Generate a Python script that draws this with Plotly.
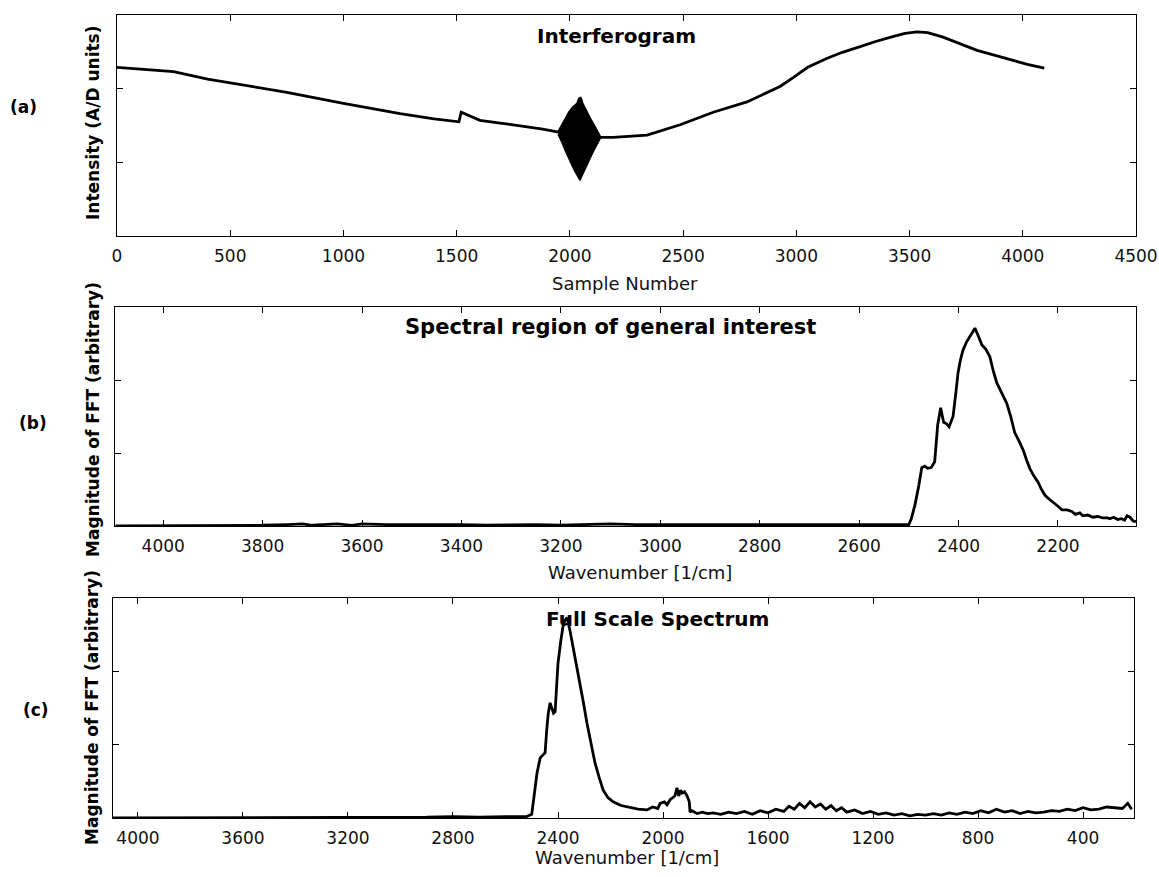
import plotly.graph_objects as go

# ---------------- data ----------------
# (a) Interferogram: baseline trace (sample number, intensity)
samples_a = [0, 100, 250, 400, 500, 750, 1000, 1160, 1250, 1400, 1500, 1510, 1520,
             1603, 1700, 1800, 1880, 1950, 2045, 2133, 2191, 2341, 2487, 2633, 2782,
             2840, 2928, 2986, 3050, 3134, 3200, 3282, 3350, 3430, 3480, 3533, 3580,
             3648, 3700, 3798, 3870, 3945, 4020, 4095]
intensity_a = [2.29, 2.27, 2.23, 2.13, 2.08, 1.95, 1.80, 1.71, 1.66, 1.59, 1.55, 1.55, 1.68,
               1.57, 1.53, 1.49, 1.45, 1.41, 1.37, 1.34, 1.34, 1.37, 1.51, 1.68, 1.82,
               1.90, 2.03, 2.15, 2.29, 2.41, 2.49, 2.57, 2.64, 2.71, 2.75, 2.77, 2.76,
               2.70, 2.64, 2.52, 2.46, 2.39, 2.33, 2.28]
# centre burst envelope
burst_samples = [1948, 1965, 1978, 1995, 2009, 2020, 2031, 2038, 2042, 2045, 2048, 2052,
                 2057, 2066, 2076, 2090, 2107, 2120, 2133]
burst_upper = [1.42, 1.52, 1.60, 1.68, 1.74, 1.77, 1.80, 1.86, 1.88, 1.88, 1.88, 1.86,
               1.80, 1.74, 1.68, 1.60, 1.51, 1.43, 1.36]
burst_lower = [1.38, 1.27, 1.17, 1.05, 0.96, 0.89, 0.83, 0.79, 0.77, 0.76, 0.77, 0.79,
               0.83, 0.89, 0.96, 1.06, 1.17, 1.25, 1.32]

# (b) Spectral region of general interest
wn_b = [4096, 4000, 3900, 3800, 3750, 3720, 3700, 3680, 3650, 3620, 3600, 3550, 3500,
        3450, 3400, 3350, 3300, 3250, 3200, 3150, 3100, 3050, 3000, 2950, 2900, 2850,
        2800, 2750, 2700, 2650, 2600, 2560, 2530, 2510, 2500, 2495, 2488, 2480, 2474,
        2468, 2462, 2455, 2448, 2442, 2436, 2430, 2424, 2419, 2411, 2405, 2401, 2396,
        2391, 2384, 2377, 2372, 2367, 2360, 2353, 2345, 2337, 2330, 2323, 2313, 2303,
        2295, 2287, 2278, 2270, 2263, 2256, 2248, 2240, 2233, 2226, 2218, 2210, 2200,
        2192, 2182, 2172, 2165, 2156, 2150, 2140, 2130, 2120, 2110, 2100, 2096, 2088,
        2080, 2072, 2066, 2061, 2055, 2049, 2043]
mag_b = [0.00, 0.00, 0.01, 0.01, 0.02, 0.03, 0.01, 0.02, 0.03, 0.01, 0.03, 0.02, 0.02,
         0.03, 0.02, 0.01, 0.02, 0.02, 0.01, 0.02, 0.03, 0.02, 0.02, 0.03, 0.03, 0.02,
         0.02, 0.03, 0.02, 0.02, 0.03, 0.02, 0.03, 0.02, 0.02, 0.10, 0.28, 0.55, 0.80,
         0.82, 0.79, 0.80, 0.88, 1.38, 1.62, 1.42, 1.40, 1.36, 1.50, 1.85, 2.10, 2.28,
         2.41, 2.52, 2.60, 2.66, 2.71, 2.60, 2.48, 2.42, 2.32, 2.12, 1.96, 1.82, 1.68,
         1.50, 1.28, 1.16, 1.04, 0.90, 0.78, 0.68, 0.60, 0.50, 0.42, 0.37, 0.33, 0.27,
         0.22, 0.22, 0.20, 0.16, 0.18, 0.14, 0.15, 0.12, 0.13, 0.11, 0.11, 0.10, 0.12,
         0.09, 0.10, 0.08, 0.14, 0.12, 0.07, 0.06]

# (c) Full scale spectrum
wn_c = [4095, 3900, 3700, 3500, 3300, 3100, 2900, 2800, 2700, 2600, 2520, 2500, 2490,
        2480, 2468, 2458, 2449, 2443, 2437, 2430, 2423, 2417, 2411, 2405, 2400, 2390,
        2381, 2373, 2365, 2354, 2342, 2330, 2316, 2303, 2290, 2275, 2259, 2243, 2228,
        2210, 2190, 2160, 2126, 2095, 2061, 2040, 2020, 2011, 1995, 1985, 1973, 1962,
        1955, 1947, 1940, 1933, 1927, 1918, 1908, 1900, 1897, 1890, 1870, 1850, 1830,
        1809, 1780, 1750, 1720, 1690, 1660, 1630, 1600, 1570, 1540, 1520, 1500, 1480,
        1460, 1440, 1420, 1400, 1380, 1360, 1340, 1320, 1300, 1270, 1240, 1210, 1180,
        1150, 1120, 1090, 1060, 1030, 1000, 970, 940, 910, 880, 850, 820, 790, 760,
        730, 700, 670, 640, 610, 580, 550, 520, 490, 460, 430, 400, 370, 340, 310, 280,
        250, 230, 215, 206]
mag_c = [0.00, 0.00, 0.01, 0.00, 0.01, 0.00, 0.01, 0.02, 0.01, 0.02, 0.02, 0.05, 0.30,
         0.61, 0.82, 0.85, 0.89, 1.20, 1.43, 1.57, 1.50, 1.43, 1.45, 1.80, 2.11, 2.40,
         2.61, 2.70, 2.73, 2.55, 2.33, 2.10, 1.84, 1.57, 1.30, 1.02, 0.75, 0.55, 0.38,
         0.28, 0.22, 0.17, 0.14, 0.12, 0.11, 0.15, 0.13, 0.20, 0.22, 0.18, 0.25, 0.28,
         0.30, 0.41, 0.30, 0.38, 0.34, 0.36, 0.30, 0.22, 0.08, 0.10, 0.06, 0.08, 0.06,
         0.07, 0.05, 0.08, 0.06, 0.09, 0.05, 0.10, 0.07, 0.12, 0.09, 0.16, 0.12, 0.20,
         0.14, 0.22, 0.15, 0.19, 0.12, 0.17, 0.10, 0.14, 0.08, 0.11, 0.06, 0.09, 0.05,
         0.07, 0.04, 0.06, 0.03, 0.05, 0.04, 0.06, 0.04, 0.07, 0.05, 0.08, 0.06, 0.10,
         0.07, 0.12, 0.08, 0.10, 0.06, 0.09, 0.07, 0.08, 0.10, 0.09, 0.12, 0.10, 0.14,
         0.11, 0.12, 0.15,
         0.14, 0.13, 0.20, 0.12]

ticks_a = [0, 500, 1000, 1500, 2000, 2500, 3000, 3500, 4000, 4500]
ticks_b = [4000, 3800, 3600, 3400, 3200, 3000, 2800, 2600, 2400, 2200]
ticks_c = [4000, 3600, 3200, 2800, 2400, 2000, 1600, 1200, 800, 400]

# ---------------- figure ----------------
W, H = 1159, 877
LINE = dict(color="black", width=2.8)
TICKFONT = dict(family="DejaVu Sans", size=17, color="#111111")
TITLEFONT = dict(family="DejaVu Sans", size=20, color="black", weight="bold")
TITLEFONT_B = dict(family="DejaVu Sans", size=21, color="black", weight="bold")
AXTFONT = dict(family="DejaVu Sans", size=18, color="#111111")
YTFONT = dict(family="DejaVu Sans", size=17, color="black", weight="bold")

fig = go.Figure()
fig.add_trace(go.Scatter(x=samples_a, y=intensity_a, mode="lines", line=LINE,
                         xaxis="x", yaxis="y", showlegend=False))
fig.add_trace(go.Scatter(x=burst_samples + burst_samples[::-1],
                         y=burst_upper + burst_lower[::-1], mode="lines",
                         fill="toself", fillcolor="black",
                         line=dict(color="black", width=1.5),
                         xaxis="x", yaxis="y", showlegend=False))
fig.add_trace(go.Scatter(x=wn_b, y=mag_b, mode="lines", line=LINE,
                         xaxis="x2", yaxis="y2", showlegend=False))
fig.add_trace(go.Scatter(x=wn_c, y=mag_c, mode="lines", line=LINE,
                         xaxis="x3", yaxis="y3", showlegend=False))

def px(v):
    return v / W

def py(v):
    return 1 - v / H

common_x = dict(showline=True, linecolor="black", linewidth=1.2, mirror="ticks",
                ticks="inside", ticklen=6, tickcolor="black", tickwidth=1,
                showgrid=False, zeroline=False, tickfont=TICKFONT,
                ticklabelstandoff=4, automargin=False)
common_y = dict(showline=True, linecolor="black", linewidth=1.2, mirror="ticks",
                ticks="inside", ticklen=6, tickcolor="black", tickwidth=1,
                showgrid=False, zeroline=False, showticklabels=False,
                range=[0, 3], tickvals=[1, 2], automargin=False)

fig.update_layout(
    width=W, height=H, autosize=False, margin=dict(l=0, r=0, t=0, b=0, pad=0),
    paper_bgcolor="white", plot_bgcolor="white",
    xaxis=dict(domain=[px(117), px(1136)], anchor="y", range=[0, 4500],
               tickvals=ticks_a, **common_x),
    yaxis=dict(domain=[py(236), py(15)], anchor="x", **common_y),
    xaxis2=dict(domain=[px(115), px(1136)], anchor="y2", range=[4097, 2043],
                tickvals=ticks_b, **common_x),
    yaxis2=dict(domain=[py(526), py(307)], anchor="x2", **common_y),
    xaxis3=dict(domain=[px(113), px(1134)], anchor="y3", range=[4095, 206],
                tickvals=ticks_c, **common_x),
    yaxis3=dict(domain=[py(818), py(598)], anchor="x3", **common_y),
)

def note(text, x, y, font, angle=0):
    fig.add_annotation(text=text, x=px(x), y=py(y), xref="paper", yref="paper",
                       showarrow=False, font=font, textangle=angle,
                       xanchor="center", yanchor="middle")

# plot titles
note("Interferogram", 616, 36, TITLEFONT)
note("Spectral region of general interest", 610, 327, TITLEFONT_B)
note("Full Scale Spectrum", 657, 619, TITLEFONT)
# x axis titles
note("Sample Number", 625, 283, AXTFONT)
note("Wavenumber [1/cm]", 640, 572, AXTFONT)
note("Wavenumber [1/cm]", 627, 857, AXTFONT)
# y axis titles
note("Intensity (A/D units)", 93, 123, YTFONT, -90)
note("Magnitude of FFT (arbitrary)", 93, 420, YTFONT, -90)
note("Magnitude of FFT (arbitrary)", 92, 708, YTFONT, -90)
# panel labels
PANEL = dict(family="DejaVu Sans", size=17, color="black", weight="bold")
note("(a)", 24, 107, PANEL)
note("(b)", 33, 423, PANEL)
note("(c)", 36, 710, PANEL)

fig.write_html("out.html", config={"responsive": False})
